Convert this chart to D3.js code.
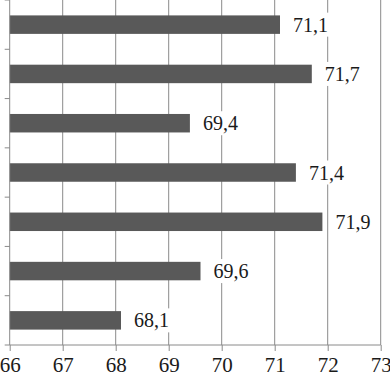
<!DOCTYPE html>
<html>
<head>
<meta charset="utf-8">
<script src="https://cdn.jsdelivr.net/npm/d3@7"></script>
<style>
  html, body { margin: 0; padding: 0; background: #fff; }
  svg { display: block; }
  text { font-family: "Liberation Serif", "Times New Roman", "DejaVu Serif", serif; fill: #1a1a1a; }
</style>
</head>
<body>
<svg id="chart"></svg>
<script>
const categories = ["a", "b", "c", "d", "e", "f", "g"];
const values = [71.1, 71.7, 69.4, 71.4, 71.9, 69.6, 68.1];
const labels = ["71,1", "71,7", "69,4", "71,4", "71,9", "69,6", "68,1"];
const xTicks = [66, 67, 68, 69, 70, 71, 72, 73];

const width = 390, height = 377;
const SVG = d3.select("#chart").attr("width", width).attr("height", height);

const x = d3.scaleLinear().domain([66, 73]).range([9.7, 380.7]);
const y = d3.scaleBand().domain(categories).range([0, 345]);
const barH = y.bandwidth() * 0.375;

// gridlines
SVG.append("g")
    .selectAll("line")
    .data(xTicks.slice(1))
    .enter()
    .append("line")
    .attr("x1", d => x(d)).attr("x2", d => x(d))
    .attr("y1", 0).attr("y2", 345)
    .attr("stroke", "#8a8a8a")
    .attr("stroke-width", 1);

// bars
SVG.append("g")
    .selectAll("rect")
    .data(values)
    .enter()
    .append("rect")
    .attr("x", x(66))
    .attr("y", (d, i) => y(categories[i]) + (y.bandwidth() - barH) / 2)
    .attr("width", d => x(d) - x(66))
    .attr("height", barH)
    .attr("fill", "#595959");

// value labels with white backing
const lab = SVG.append("g")
    .selectAll("g")
    .data(values)
    .enter()
    .append("g")
    .attr("transform", (d, i) => `translate(${x(d) + 13},${y(categories[i]) + y.bandwidth() / 2})`);

lab.append("rect")
    .attr("x", -2).attr("y", -12)
    .attr("width", 40).attr("height", 24)
    .attr("fill", "#fff");

lab.append("text")
    .attr("dy", "0.35em")
    .style("font-size", "20px")
    .text((d, i) => labels[i]);

// y axis
const yAxis = d3.axisLeft(y).tickSize(5).tickFormat("");
const yg = SVG.append("g").attr("transform", `translate(${x(66)},0)`).call(yAxis);
yg.selectAll(".tick").attr("transform", d => `translate(0,${y(d)})`);
yg.append("line").attr("x1", -5).attr("x2", 0).attr("y1", 345).attr("y2", 345);
yg.selectAll("line").attr("stroke", "#8a8a8a");
yg.select(".domain").attr("stroke", "#8a8a8a").attr("d", "M0,0V345");

// x axis
const xAxis = d3.axisBottom(x).tickValues(xTicks).tickSize(6).tickPadding(6).tickFormat(d3.format("d"));
const xg = SVG.append("g").attr("transform", "translate(0,345)").call(xAxis);
xg.attr("font-family", null).attr("font-size", null);
xg.select(".domain").attr("stroke", "#8a8a8a").attr("d", `M${x(66)},0H${x(73)}`);
xg.selectAll("line").attr("stroke", "#8a8a8a");
xg.selectAll("text").style("font-size", "21px");
</script>
</body>
</html>
